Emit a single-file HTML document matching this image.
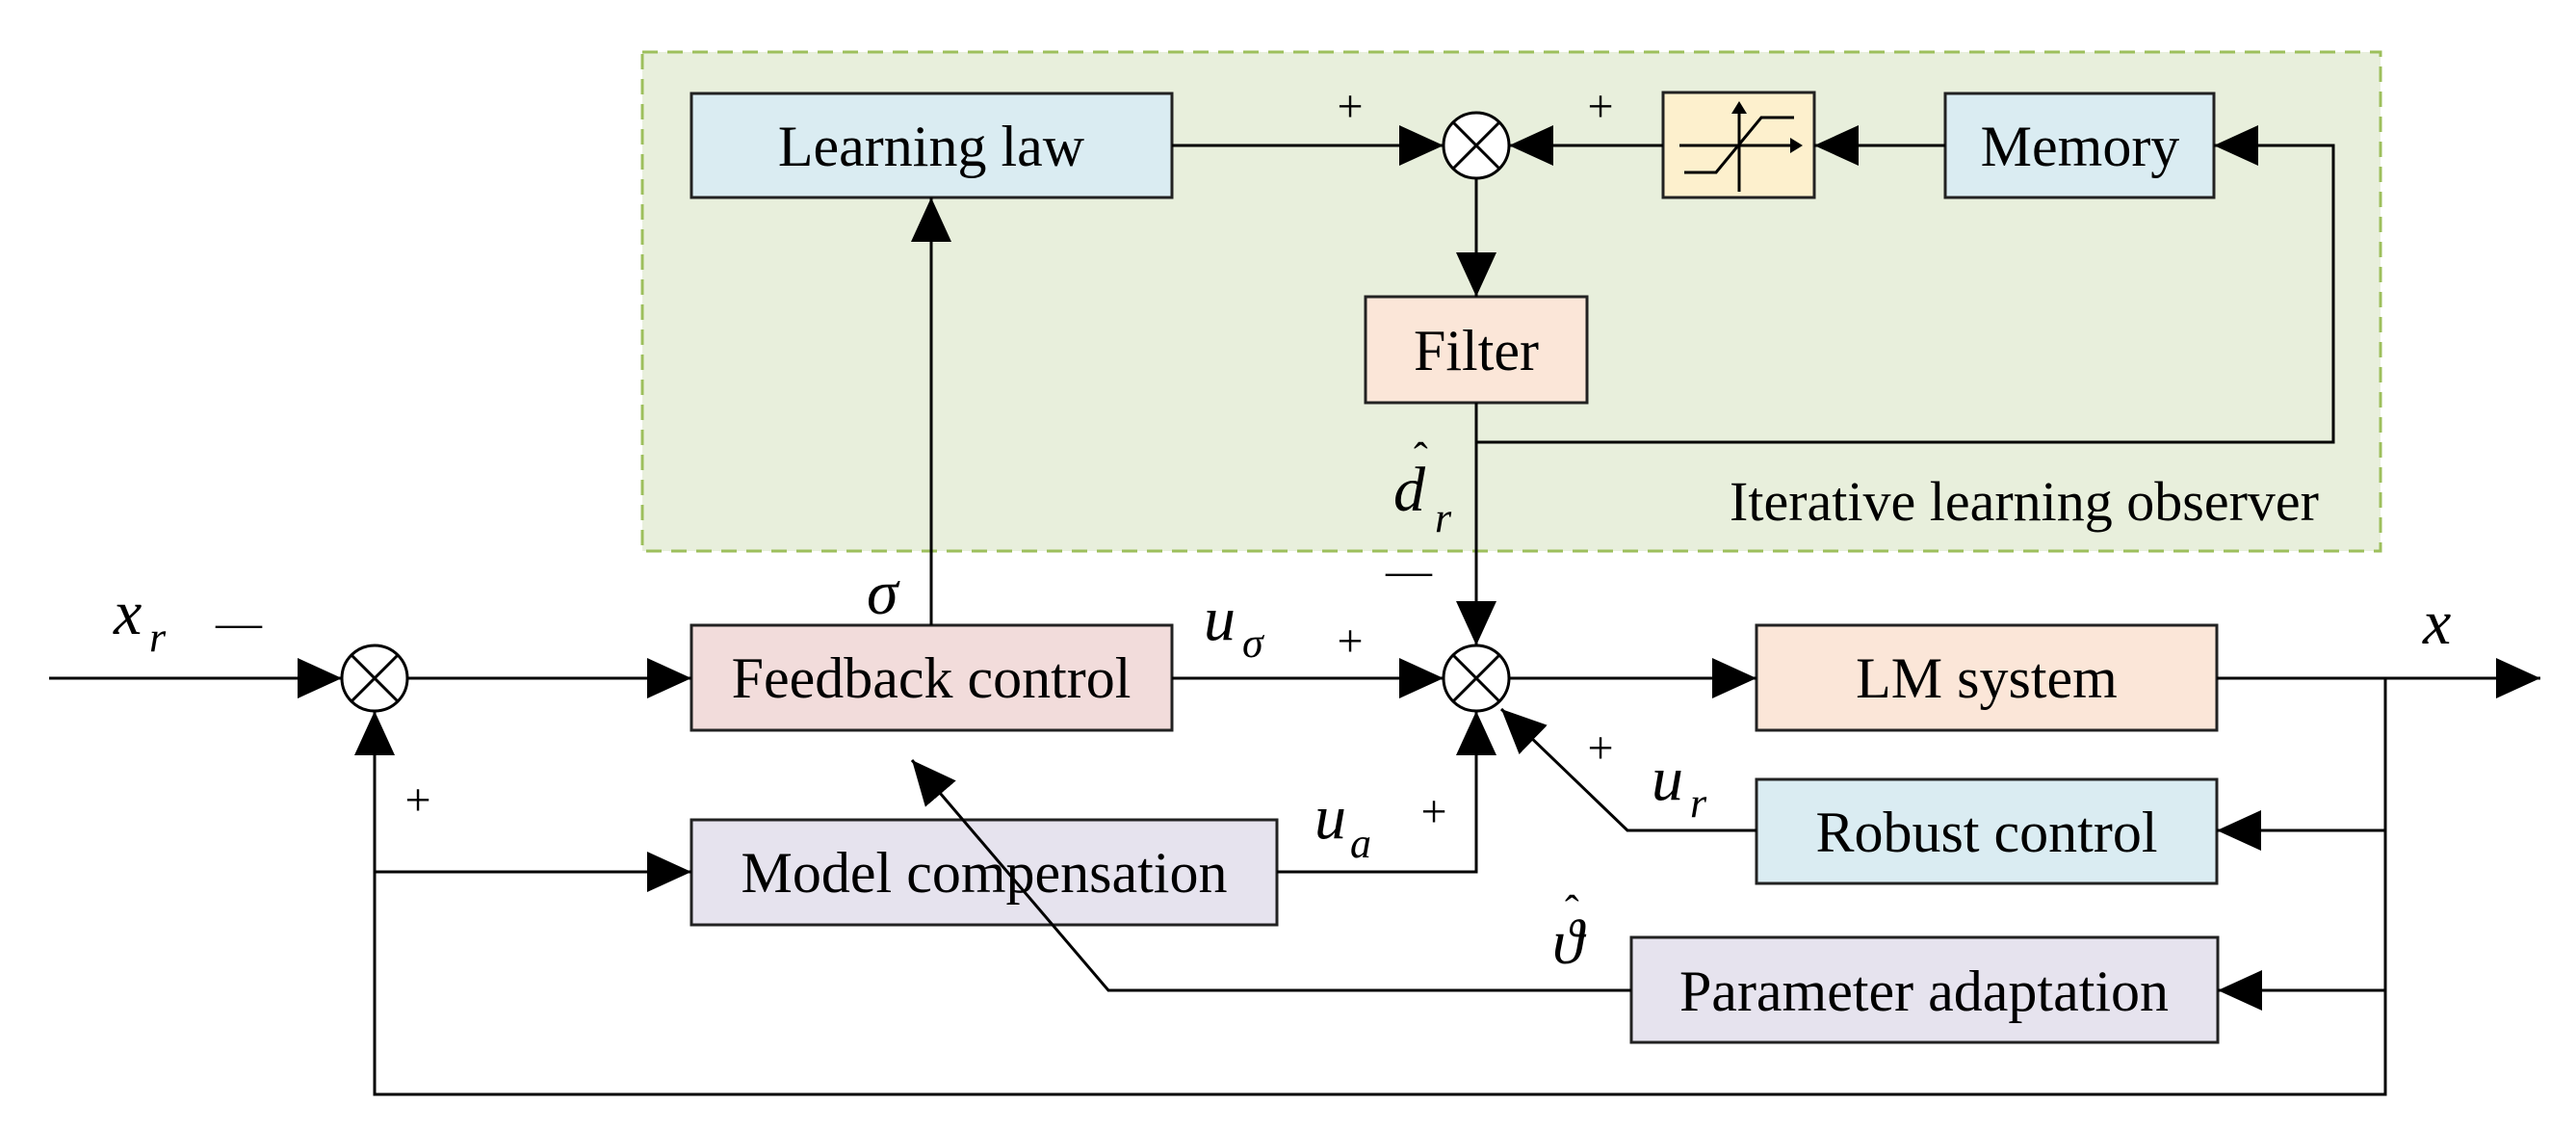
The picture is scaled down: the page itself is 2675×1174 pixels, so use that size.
<!DOCTYPE html>
<html><head><meta charset="utf-8"><style>html,body{margin:0;padding:0;background:#fff}svg{display:block}</style></head>
<body>
<svg width="2675" height="1174" viewBox="0 0 2675 1174" xmlns="http://www.w3.org/2000/svg" font-family="Liberation Serif, serif">
<defs>
<marker id="a" markerWidth="46" markerHeight="42" refX="46" refY="21" orient="auto" markerUnits="userSpaceOnUse"><path d="M0,0 L46,21 L0,42 Z" fill="#000"/></marker>
</defs>
<rect x="667" y="54" width="1805" height="518" fill="#e8efdc" stroke="#9dbf5c" stroke-width="3" stroke-dasharray="16,10"/>
<g stroke="#222" stroke-width="3">
<rect x="718" y="97" width="499" height="108" fill="#daecf2"/>
<rect x="718" y="649" width="499" height="109" fill="#f2dcdb"/>
<rect x="718" y="851" width="608" height="109" fill="#e6e3ee"/>
<rect x="1727" y="96" width="157" height="109" fill="#fdf0cd"/>
<rect x="2020" y="97" width="279" height="108" fill="#daecf2"/>
<rect x="1418" y="308" width="230" height="110" fill="#fbe6d8"/>
<rect x="1824" y="649" width="478" height="109" fill="#fbe6d8"/>
<rect x="1824" y="809" width="478" height="108" fill="#daecf2"/>
<rect x="1694" y="973" width="609" height="109" fill="#e6e3ee"/>
</g>
<g stroke="#000" stroke-width="3" fill="none">
<circle cx="389" cy="704" r="34" fill="#fff"/><path d="M365,680 L413,728 M413,680 L365,728"/>
<circle cx="1533" cy="151" r="34" fill="#fff"/><path d="M1509,127 L1557,175 M1557,127 L1509,175"/>
<circle cx="1533" cy="704" r="34" fill="#fff"/><path d="M1509,680 L1557,728 M1557,680 L1509,728"/>
<path d="M51,704 L355,704" marker-end="url(#a)"/>
<path d="M423,704 L718,704" marker-end="url(#a)"/>
<path d="M967,649 L967,205" marker-end="url(#a)"/>
<path d="M1217,704 L1499,704" marker-end="url(#a)"/>
<path d="M1567,704 L1824,704" marker-end="url(#a)"/>
<path d="M2302,704 L2638,704" marker-end="url(#a)"/>
<path d="M1217,151 L1499,151" marker-end="url(#a)"/>
<path d="M1727,151 L1567,151" marker-end="url(#a)"/>
<path d="M2020,151 L1884,151" marker-end="url(#a)"/>
<path d="M1533,459 L2423,459 L2423,151 L2299,151" marker-end="url(#a)"/>
<path d="M1533,185 L1533,308" marker-end="url(#a)"/>
<path d="M1533,418 L1533,670" marker-end="url(#a)"/>
<path d="M1326,905 L1533,905 L1533,738" marker-end="url(#a)"/>
<path d="M1824,862 L1690,862 L1559,736" marker-end="url(#a)"/>
<path d="M2477,704 L2477,1136 L389,1136 L389,738" marker-end="url(#a)"/>
<path d="M389,905 L718,905" marker-end="url(#a)"/>
<path d="M2477,862 L2302,862" marker-end="url(#a)"/>
<path d="M2477,1028 L2303,1028" marker-end="url(#a)"/>
<path d="M1694,1028 L1151,1028 L947,789" marker-end="url(#a)"/>
<path d="M1806,199 L1806,114 M1744,151 L1860,151 M1749,179 L1782,179 L1829,122 L1863,122"/>
</g>
<path d="M1806,105 L1798,118 L1814,118 Z M1872,151 L1859,143 L1859,159 Z" fill="#000"/>
<g font-size="60" text-anchor="middle" fill="#000">
<text x="967" y="172">Learning law</text>
<text x="967" y="724">Feedback control</text>
<text x="1022" y="926">Model compensation</text>
<text x="2160" y="172">Memory</text>
<text x="1533" y="384">Filter</text>
<text x="2063" y="724">LM system</text>
<text x="2063" y="884">Robust control</text>
<text x="1998" y="1049">Parameter adaptation</text>
<text x="2102" y="540" font-size="58">Iterative learning observer</text>
</g>
<g font-size="48" fill="#000" text-anchor="middle">
<text x="1402" y="126">+</text><text x="1662" y="126">+</text>
<text x="1402" y="681">+</text><text x="1662" y="792">+</text>
<text x="1489" y="858">+</text><text x="434" y="846">+</text>
<text x="248" y="662">—</text><text x="1463" y="608">—</text>
</g>
<g font-style="italic" fill="#000" font-size="66">
<text x="118" y="658">x</text><text x="155" y="676" font-size="44">r</text>
<text x="900" y="637">σ</text>
<text x="1250" y="664">u</text><text x="1290" y="682" font-size="44">σ</text>
<text x="1365" y="870">u</text><text x="1402" y="890" font-size="44">a</text>
<text x="1715" y="830">u</text><text x="1755" y="848" font-size="44">r</text>
<text x="1447" y="530">d</text><text x="1490" y="552" font-size="44">r</text>
<text x="1468" y="490" font-size="44" font-style="normal">ˆ</text>
<text x="1612" y="1000">ϑ</text>
<text x="1625" y="960" font-size="44" font-style="normal">ˆ</text>
<text x="2516" y="668">x</text>
</g>
</svg>
</body></html>
